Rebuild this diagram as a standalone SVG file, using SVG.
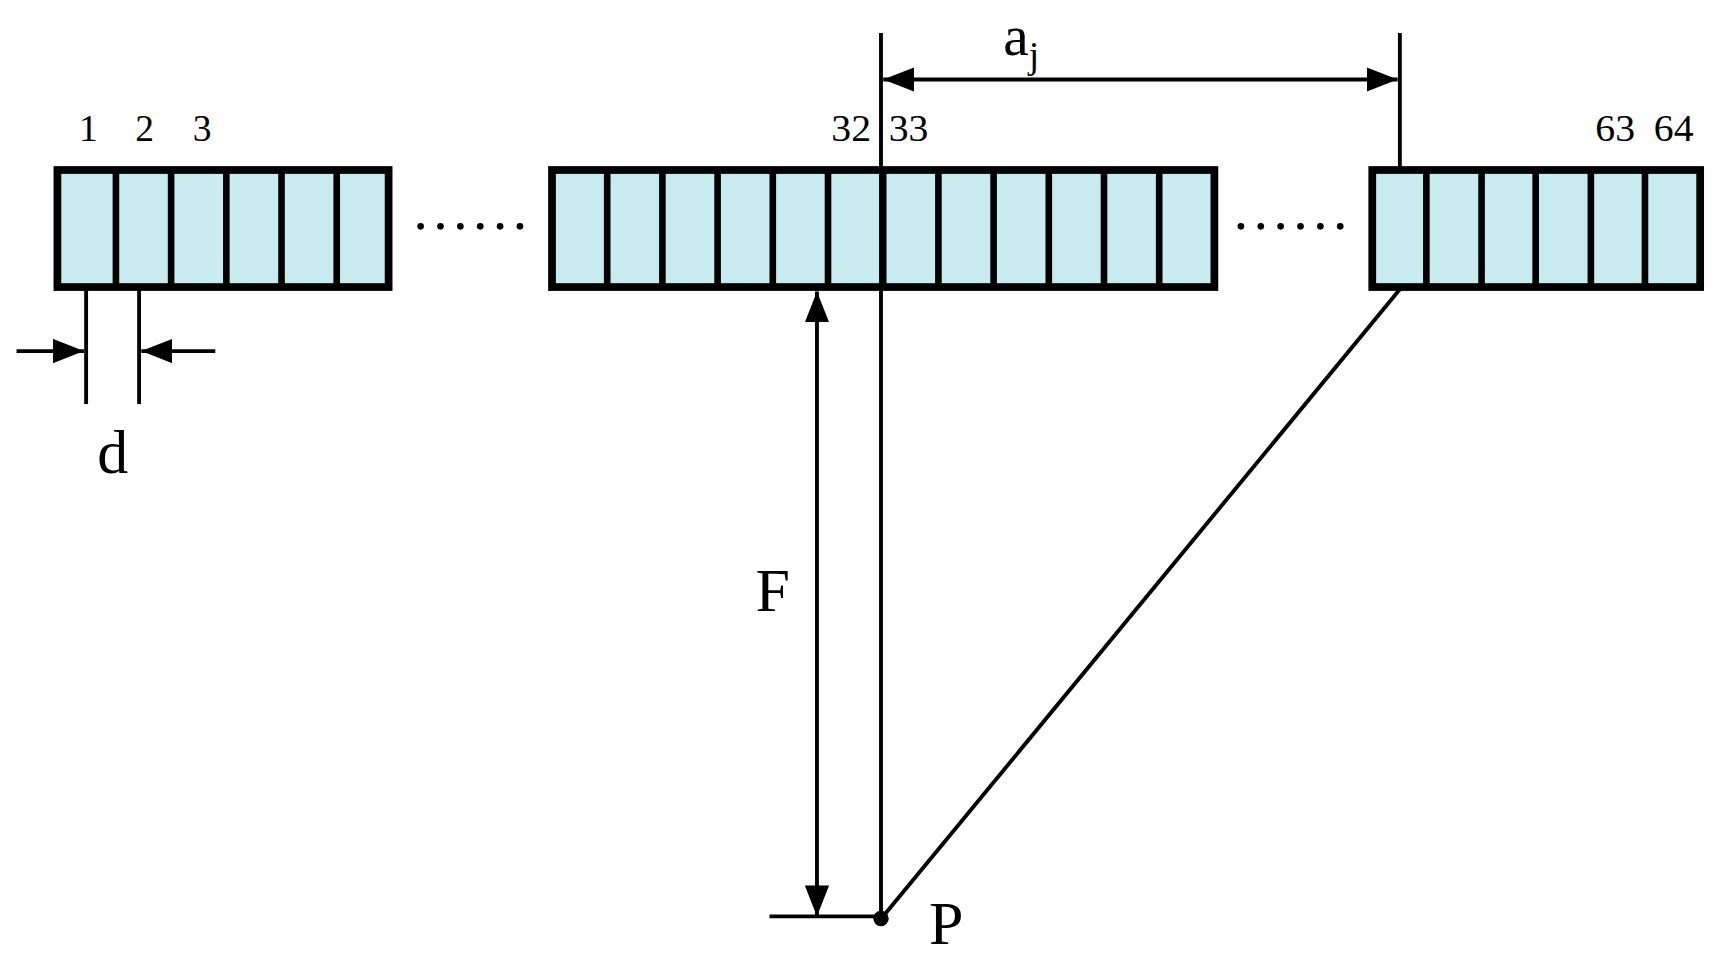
<svg xmlns="http://www.w3.org/2000/svg" width="1731" height="961" viewBox="0 0 1731 961">
<defs>
<marker id="ab" viewBox="0 0 10 10" refX="10" refY="5" markerWidth="28" markerHeight="22" markerUnits="userSpaceOnUse" orient="auto-start-reverse" preserveAspectRatio="none"><path d="M0,0 L10,5 L0,10 z" fill="#000"/></marker>
</defs>
<style>
.box{fill:#c8ebf0;stroke:#000;stroke-width:7}
.div{stroke:#000;stroke-width:6}
.ln{stroke:#000;stroke-width:3.5;fill:none}
.t{font-family:"Liberation Serif",serif;fill:#000}
.dot{fill:#000}
</style>
<rect width="1731" height="961" fill="#fff"/>
<g transform="scale(1.104)">
<g id="array1">
<rect class="box" x="52" y="154" width="300" height="106"/>
<path class="div" d="M105,154V260M155,154V260M205,154V260M255,154V260M305,154V260"/>
<text class="t" x="80" y="128" font-size="34" text-anchor="middle">1</text>
<text class="t" x="131" y="128" font-size="34" text-anchor="middle">2</text>
<text class="t" x="183" y="128" font-size="34" text-anchor="middle">3</text>
</g>
<g id="array2">
<rect class="box" x="500" y="154" width="600" height="106"/>
<path class="div" d="M550,154V260M600,154V260M650,154V260M700,154V260M750,154V260M800,154V260M850,154V260M900,154V260M950,154V260M1000,154V260M1050,154V260"/>
<text class="t" x="771" y="128" font-size="34" text-anchor="middle" textLength="36" lengthAdjust="spacingAndGlyphs">32</text>
<text class="t" x="823" y="128" font-size="34" text-anchor="middle" textLength="36" lengthAdjust="spacingAndGlyphs">33</text>
</g>
<g id="array3">
<rect class="box" x="1243" y="154" width="297" height="106"/>
<path class="div" d="M1292,154V260M1342,154V260M1391,154V260M1441,154V260M1490,154V260"/>
<text class="t" x="1463" y="128" font-size="34" text-anchor="middle" textLength="36" lengthAdjust="spacingAndGlyphs">63</text>
<text class="t" x="1516" y="128" font-size="34" text-anchor="middle" textLength="36" lengthAdjust="spacingAndGlyphs">64</text>
</g>
<g id="dots">
<circle class="dot" cx="381" cy="205" r="3"/><circle class="dot" cx="399" cy="205" r="3"/><circle class="dot" cx="417" cy="205" r="3"/><circle class="dot" cx="435" cy="205" r="3"/><circle class="dot" cx="453" cy="205" r="3"/><circle class="dot" cx="471" cy="205" r="3"/>
<circle class="dot" cx="1124" cy="205" r="3"/><circle class="dot" cx="1142" cy="205" r="3"/><circle class="dot" cx="1160" cy="205" r="3"/><circle class="dot" cx="1178" cy="205" r="3"/><circle class="dot" cx="1196" cy="205" r="3"/><circle class="dot" cx="1214" cy="205" r="3"/>
</g>
<g id="connectors">
<line class="ln" x1="798" y1="30" x2="798" y2="830"/>
<line class="ln" x1="1268" y1="30" x2="1268" y2="154"/>
<line class="ln" x1="800" y1="72" x2="1266" y2="72" marker-start="url(#ab)" marker-end="url(#ab)"/>
<line class="ln" x1="78" y1="262" x2="78" y2="366"/>
<line class="ln" x1="126" y1="262" x2="126" y2="366"/>
<line class="ln" x1="15" y1="318" x2="76" y2="318" marker-end="url(#ab)"/>
<line class="ln" x1="195" y1="318" x2="128" y2="318" marker-end="url(#ab)"/>
<line class="ln" x1="740" y1="264" x2="740" y2="830" marker-start="url(#ab)" marker-end="url(#ab)"/>
<line class="ln" x1="800" y1="830" x2="1268" y2="262"/>
<line class="ln" x1="697" y1="830" x2="798" y2="830"/>
<circle cx="798" cy="832" r="7" fill="#000"/>
</g>
<g id="labels">
<text class="t" x="925" y="50" font-size="52" text-anchor="middle">a<tspan font-size="34" dy="12">j</tspan></text>
<text class="t" x="102" y="428" font-size="56" text-anchor="middle">d</text>
<text class="t" x="700" y="553" font-size="56" text-anchor="middle">F</text>
<text class="t" x="857" y="855" font-size="56" text-anchor="middle">P</text>
</g>
</g>
</svg>
